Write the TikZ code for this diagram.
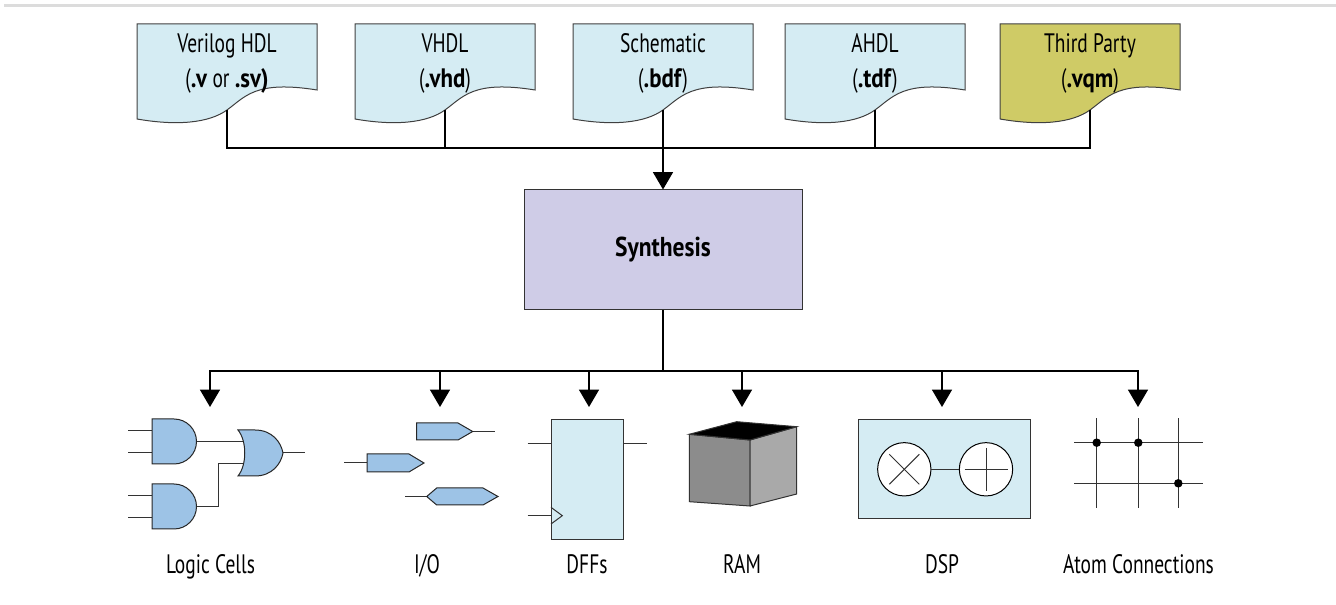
\documentclass[tikz,border=0pt]{standalone}
\usepackage{fontspec}
\setmainfont{PT Sans}[FakeStretch=0.73, BoldFeatures={FakeStretch=0.86}]
\usetikzlibrary{arrows.meta,calc}

\definecolor{docblue}{HTML}{D5ECF3}
\definecolor{thirdfill}{HTML}{CFCB66}
\definecolor{synthfill}{HTML}{CFCCE7}
\definecolor{gateblue}{HTML}{9DC3E6}
\definecolor{ramfront}{HTML}{8C8C8C}
\definecolor{ramside}{HTML}{A9A9A9}
\definecolor{rulegray}{HTML}{DCDCDC}

\tikzset{
  wire/.style={draw=black, line width=0.9pt},
  feed/.style={wire, -{Triangle[width=15pt,length=13pt]}},
  pin/.style={draw=black!80, line width=0.75pt},
  pageedge/.style={draw=black!75, line width=0.75pt},
  lbl/.style={font=\fontsize{20}{24}\selectfont, inner sep=0pt, anchor=base},
  boldlbl/.style={font=\fontsize{20.5}{24}\selectfont\bfseries, inner sep=0pt},
  gate/.style={draw=black!85, line width=0.75pt, fill=gateblue},
  blockedge/.style={draw=black!80, line width=0.75pt},
}

% source file page: #1 name, #2 left edge, #3 fill, #4 first line, #5 second line
\newcommand\sourcepage[5]{%
  \begin{scope}[shift={(#2,0)}]
    \path[pageedge, fill=#3] (0,24) -- (180,24) -- (180,90)
      .. controls (118,80) and (108,97) .. (90,110)
      .. controls (72,123) and (40,126) .. (0,119) -- cycle;
    \coordinate (#1-tail) at (90,110);
    \node[lbl] (#1) at (90,53) {#4};
    \node[lbl] (#1-ext) at (90,88) {#5};
  \end{scope}}

% AND gate with left edge and vertical centre given by the shift
\newcommand\andgate[2]{%
  \begin{scope}[shift={(#1,#2)}]
    \path[gate] (0,-22.5) -- (22,-22.5)
      .. controls (34.4,-22.5) and (44.5,-12.4) .. (44.5,0)
      .. controls (44.5,12.4) and (34.4,22.5) .. (22,22.5)
      -- (0,22.5) -- cycle;
  \end{scope}}

\begin{document}
\begin{tikzpicture}[x=0.75pt, y=-0.75pt]
  \useasboundingbox (0,0) rectangle (1336,605);

  % top rule
  \draw[rulegray, line width=1.6pt] (4,5.5) -- (1336,5.5);

  % source files
  \sourcepage{verilog}{137}{docblue}{Verilog HDL}{(\textbf{.v} or \textbf{.sv)}}
  \sourcepage{vhdl}{355}{docblue}{VHDL}{(\textbf{.vhd})}
  \sourcepage{schem}{573}{docblue}{Schematic}{(\textbf{.bdf})}
  \sourcepage{ahdl}{785}{docblue}{AHDL}{(\textbf{.tdf})}
  \sourcepage{third}{1000}{thirdfill}{Third Party}{(\textbf{.vqm})}

  % synthesis block
  \node[boldlbl, draw=black!80, line width=0.75pt, fill=synthfill,
        minimum width=208.5pt, minimum height=90pt] (synth) at (663,250) {Synthesis};

  % merge of the sources into synthesis
  \coordinate (merge) at (663,148);
  \draw[wire] (verilog-tail) |- (merge);
  \draw[wire] (vhdl-tail) |- (merge);
  \draw[wire] (ahdl-tail) |- (merge);
  \draw[wire] (third-tail) |- (merge);
  \draw[feed] (schem-tail) -- (synth.north);

  % fan-out to the netlist primitives
  \coordinate (lc-top) at (210,407);
  \coordinate (io-top) at (440,407);
  \coordinate (dff-top) at (589,407);
  \coordinate (ram-top) at (742,407);
  \coordinate (dsp-top) at (942,407);
  \coordinate (atom-top) at (1138,407);
  \draw[wire] (synth.south) -- (663,371) coordinate (split);
  \foreach \t in {lc-top,io-top,dff-top,ram-top,dsp-top,atom-top}
    \draw[feed] (split) -| (\t);

  % ---- logic cells ----
  \draw[pin] (128,430.5) -- (152,430.5);
  \draw[pin] (128,452.5) -- (152,452.5);
  \draw[pin] (128,495.5) -- (152,495.5);
  \draw[pin] (128,517.5) -- (152,517.5);
  \draw[pin] (196,441.5) -- (247,441.5);
  \draw[pin] (196,506.5) -- (218,506.5) -- (218,464) -- (247,464);
  \draw[pin] (282,453) -- (305,453);
  \andgate{152}{441.5}
  \andgate{152}{506.5}
  \begin{scope}[shift={(238,453)}]
    \path[gate] (0,-23) -- (17,-23)
      .. controls (34,-23) and (43,-11) .. (45,0)
      .. controls (43,11) and (34,23) .. (17,23)
      -- (0,23) .. controls (9,12) and (9,-12) .. (0,-23) -- cycle;
  \end{scope}

  % ---- I/O buffers ----
  \draw[pin] (472.7,431.5) -- (495,431.5);
  \path[gate] (416.7,423) -- (458,423) -- (472.7,431.5) -- (458,440) -- (416.7,440) -- cycle;
  \draw[pin] (344,463) -- (367,463);
  \path[gate] (367,454) -- (409,454) -- (424,463) -- (409,472) -- (367,472) -- cycle;
  \draw[pin] (405,496.5) -- (426.7,496.5);
  \path[gate] (426.7,496.5) -- (436.7,488) -- (483,488) -- (498,496.5) -- (483,505) -- (436.7,505) -- cycle;

  % ---- flip-flop ----
  \path[blockedge, fill=docblue] (551,420) rectangle (623,540);
  \draw[pin] (527.7,444) -- (551,444);
  \draw[pin] (623,444) -- (646.7,444);
  \draw[pin] (527.7,515.7) -- (551,515.7);
  \draw[pin] (551,507.3) -- (562.3,515.7) -- (551,524);

  % ---- RAM block ----
  \path[blockedge, fill=ramfront] (689.3,434.3) -- (750,440) -- (750,506) -- (689.3,501.7) -- cycle;
  \path[blockedge, fill=ramside] (750,440) -- (796.7,426.7) -- (796.7,494) -- (750,506) -- cycle;
  \path[blockedge, fill=black] (689.3,434.3) -- (736.7,421.7) -- (796.7,426.7) -- (750,440) -- cycle;

  % ---- DSP block ----
  \path[blockedge, fill=docblue] (858.3,419.3) rectangle (1030.7,518.3);
  \node[circle, draw=black, line width=0.75pt, fill=white, inner sep=0pt,
        minimum size=40pt] (mul) at (904.3,469.3) {};
  \node[circle, draw=black, line width=0.75pt, fill=white, inner sep=0pt,
        minimum size=40pt] (add) at (986,469.3) {};
  \draw[pin] (mul.east) -- (add.west);
  \draw[pin] ($(mul.center)+(-15,-15)$) -- ($(mul.center)+(15,15)$);
  \draw[pin] ($(mul.center)+(-15,15)$) -- ($(mul.center)+(15,-15)$);
  \draw[pin] ($(add.center)+(-21.5,0)$) -- ($(add.center)+(21.5,0)$);
  \draw[pin] ($(add.center)+(0,-21.5)$) -- ($(add.center)+(0,21.5)$);

  % ---- atom connections ----
  \foreach \xv in {1096.7,1138.3,1178.3}
    \draw[pin] (\xv,418.3) -- (\xv,508.3);
  \draw[pin] (1074.3,442.7) -- (1203.3,442.7);
  \draw[pin] (1074.3,483.3) -- (1203.3,483.3);
  \foreach \p in {(1096.7,442.7),(1138.3,442.7),(1178.3,483.3)}
    \fill \p circle[radius=3.2pt];

  % ---- captions ----
  \node[lbl] (lc-cap) at (210.5,574) {Logic Cells};
  \node[lbl] (io-cap) at (427,574) {I/O};
  \node[lbl] (dff-cap) at (587,574) {DFFs};
  \node[lbl] (ram-cap) at (742,574) {RAM};
  \node[lbl] (dsp-cap) at (942,574) {DSP};
  \node[lbl] (atom-cap) at (1138.5,574) {Atom Connections};
\end{tikzpicture}
\end{document}
